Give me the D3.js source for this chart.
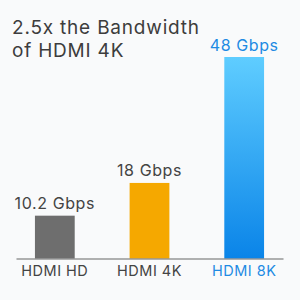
<!DOCTYPE html>
<html>
<head>
<meta charset="utf-8">
<script src="https://cdn.jsdelivr.net/npm/d3@7"></script>
<style>
  html, body { margin: 0; padding: 0; background: #f9fafb; }
  svg { display: block; font-family: Inter, "Open Sans", sans-serif; }
</style>
</head>
<body>
<script>
// data
var categories = ["HDMI HD", "HDMI 4K", "HDMI 8K"];
var values = [10.2, 18, 48];
var valueLabels = ["10.2 Gbps", "18 Gbps", "48 Gbps"];
var titleLines = ["2.5x the Bandwidth", "of HDMI 4K"];

var width = 300, height = 300;
var baseY = 258.5;

var svg = d3.select("body").append("svg")
    .attr("width", width).attr("height", height);

// gradient for the 8K bar
var defs = svg.append("defs");
var grad = defs.append("linearGradient").attr("id", "blueGrad")
    .attr("x1", 0).attr("y1", 0).attr("x2", 0).attr("y2", 1);
grad.append("stop").attr("offset", "0%").attr("stop-color", "#5fcdff");
grad.append("stop").attr("offset", "100%").attr("stop-color", "#0a84e8");

var barFill = ["#6e6e6e", "#f5a800", "url(#blueGrad)"];
var labelColor = ["#444", "#444", "#1f8be3"];

var x = d3.scaleBand().domain(categories).range([16, 283])
    .paddingInner(0.58).paddingOuter(0.2);
var y = d3.scaleLinear().domain([0, 48]).range([baseY, 57]);

// title
svg.append("g").selectAll("text")
  .data(titleLines)
  .enter().append("text")
    .attr("x", 12)
    .attr("y", function(d, i){ return 34 + i*23; })
    .attr("font-size", 19)
    .attr("letter-spacing", 0.8)
    .attr("fill", "#3d3d3d")
    .text(function(d){ return d; });

// bars
svg.append("g").selectAll("rect")
  .data(values)
  .enter().append("rect")
    .attr("x", function(d, i){ return x(categories[i]); })
    .attr("y", function(d){ return y(d); })
    .attr("width", x.bandwidth())
    .attr("height", function(d){ return baseY - y(d); })
    .attr("fill", function(d, i){ return barFill[i]; });

// value labels
svg.append("g").selectAll("text")
  .data(values)
  .enter().append("text")
    .attr("x", function(d, i){ return x(categories[i]) + x.bandwidth()/2; })
    .attr("y", function(d){ return y(d) - 6.5; })
    .attr("text-anchor", "middle")
    .attr("font-size", 16)
    .attr("letter-spacing", 0.6)
    .attr("fill", function(d, i){ return labelColor[i]; })
    .text(function(d, i){ return valueLabels[i]; });

// baseline axis
var axis = svg.append("g")
    .attr("transform", "translate(0," + baseY + ")")
    .call(d3.axisBottom(x).tickSize(0).tickPadding(7));
axis.select(".domain").attr("stroke", "#666").attr("stroke-width", 1.2);
axis.selectAll(".tick text")
    .attr("font-size", 14.5)
    .attr("letter-spacing", 0.5)
    .attr("font-family", "Inter, sans-serif")
    .attr("fill", function(d, i){ return labelColor[i]; });
</script>
</body>
</html>
